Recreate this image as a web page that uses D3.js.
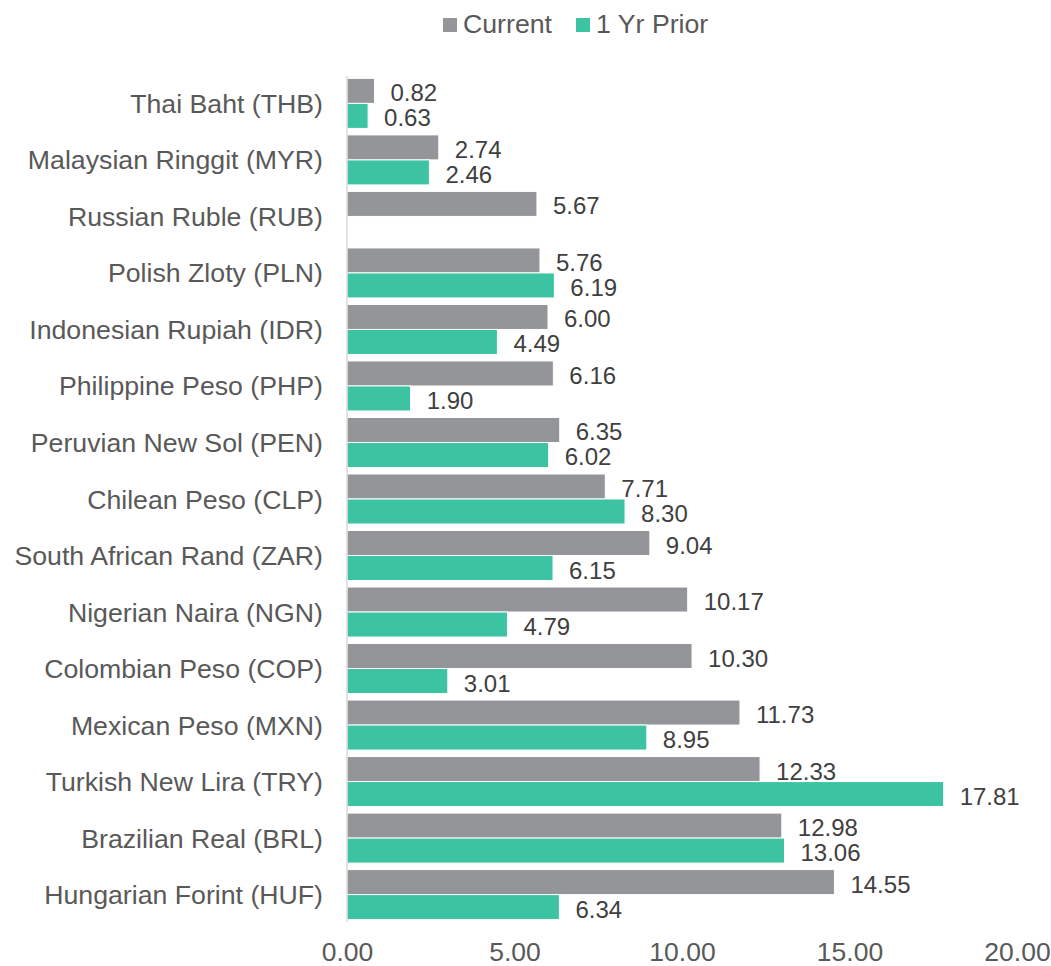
<!DOCTYPE html>
<html>
<head>
<meta charset="utf-8">
<script src="https://cdn.jsdelivr.net/npm/d3@7/dist/d3.min.js"></script>
<style>
  html, body { margin: 0; padding: 0; background: #ffffff; }
  svg { display: block; font-family: "Liberation Sans", Arial, sans-serif; }
</style>
</head>
<body>
<svg id="chart" width="1051" height="966"></svg>
<script>
// Currency names, top to bottom
const currencies = [
  "Thai Baht (THB)",
  "Malaysian Ringgit (MYR)",
  "Russian Ruble (RUB)",
  "Polish Zloty (PLN)",
  "Indonesian Rupiah (IDR)",
  "Philippine Peso (PHP)",
  "Peruvian New Sol (PEN)",
  "Chilean Peso (CLP)",
  "South African Rand (ZAR)",
  "Nigerian Naira (NGN)",
  "Colombian Peso (COP)",
  "Mexican Peso (MXN)",
  "Turkish New Lira (TRY)",
  "Brazilian Real (BRL)",
  "Hungarian Forint (HUF)"
];
const currentValues = [0.82, 2.74, 5.67, 5.76, 6.00, 6.16, 6.35, 7.71, 9.04, 10.17, 10.30, 11.73, 12.33, 12.98, 14.55];
const priorValues   = [0.63, 2.46, null, 6.19, 4.49, 1.90, 6.02, 8.30, 6.15, 4.79, 3.01, 8.95, 17.81, 13.06, 6.34];
const seriesNames = ["Current", "1 Yr Prior"];
const xTicks = [0, 5, 10, 15, 20];

const colors = { "Current": "#939598", "1 Yr Prior": "#3cc4a2" };
const textColor = "#595959";
const labelColor = "#404040";

const svg = d3.select("#chart");

const x = d3.scaleLinear().domain([0, 20]).range([347, 1017]);
const y = d3.scaleBand().domain(currencies).range([75, 923]).paddingInner(0.115).paddingOuter(0.06);
const ySub = d3.scaleBand().domain(seriesNames).range([0, y.bandwidth()]);

const rows = currencies.map((c, i) => ({
  name: c,
  values: [
    { series: "Current", value: currentValues[i] },
    { series: "1 Yr Prior", value: priorValues[i] }
  ]
}));

// Bars and value labels
const groups = svg.append("g").selectAll("g.row")
  .data(rows).join("g")
  .attr("class", "row")
  .attr("transform", d => `translate(0,${y(d.name)})`);

groups.selectAll("rect")
  .data(d => d.values.filter(v => v.value != null))
  .join("rect")
  .attr("x", x(0))
  .attr("y", d => ySub(d.series))
  .attr("width", d => x(d.value) - x(0))
  .attr("height", ySub.bandwidth())
  .attr("fill", d => colors[d.series])
  .attr("stroke", "#ffffff")
  .attr("stroke-width", 1);

groups.selectAll("text.val")
  .data(d => d.values.filter(v => v.value != null))
  .join("text")
  .attr("class", "val")
  .attr("x", d => x(d.value) + 16)
  .attr("y", d => ySub(d.series) + ySub.bandwidth() / 2 + 10.5)
  .attr("font-size", 24)
  .attr("fill", labelColor)
  .text(d => d.value.toFixed(2));

// Category axis line
svg.append("line")
  .attr("x1", x(0)).attr("x2", x(0))
  .attr("y1", 76).attr("y2", 922)
  .attr("stroke", "#d9d9d9")
  .attr("stroke-width", 1.5);

// Category labels
svg.append("g").selectAll("text")
  .data(currencies).join("text")
  .attr("x", 323)
  .attr("y", d => y(d) + y.bandwidth() / 2 + 9.5)
  .attr("text-anchor", "end")
  .attr("font-size", 26.7)
  .attr("fill", textColor)
  .text(d => d);

// Value axis tick labels
const xAxis = d3.axisBottom(x).tickValues(xTicks).tickFormat(d3.format(".2f")).tickSize(0).tickPadding(0);
const gx = svg.append("g").attr("transform", "translate(0,942)").call(xAxis);
gx.select(".domain").remove();
gx.selectAll("text")
  .attr("font-size", 26.5)
  .attr("font-family", "Liberation Sans, Arial, sans-serif")
  .attr("fill", textColor)
  .attr("dy", null)
  .attr("y", 18.5);

// Legend
const legendItems = [
  { name: "Current", sx: 443, tx: 463 },
  { name: "1 Yr Prior", sx: 576, tx: 596 }
];
const legend = svg.append("g");
legend.selectAll("rect").data(legendItems).join("rect")
  .attr("x", d => d.sx).attr("y", 18)
  .attr("width", 14).attr("height", 14)
  .attr("fill", d => colors[d.name]);
legend.selectAll("text").data(legendItems).join("text")
  .attr("x", d => d.tx).attr("y", 33)
  .attr("font-size", 26.7)
  .attr("fill", textColor)
  .text(d => d.name);
</script>
</body>
</html>
